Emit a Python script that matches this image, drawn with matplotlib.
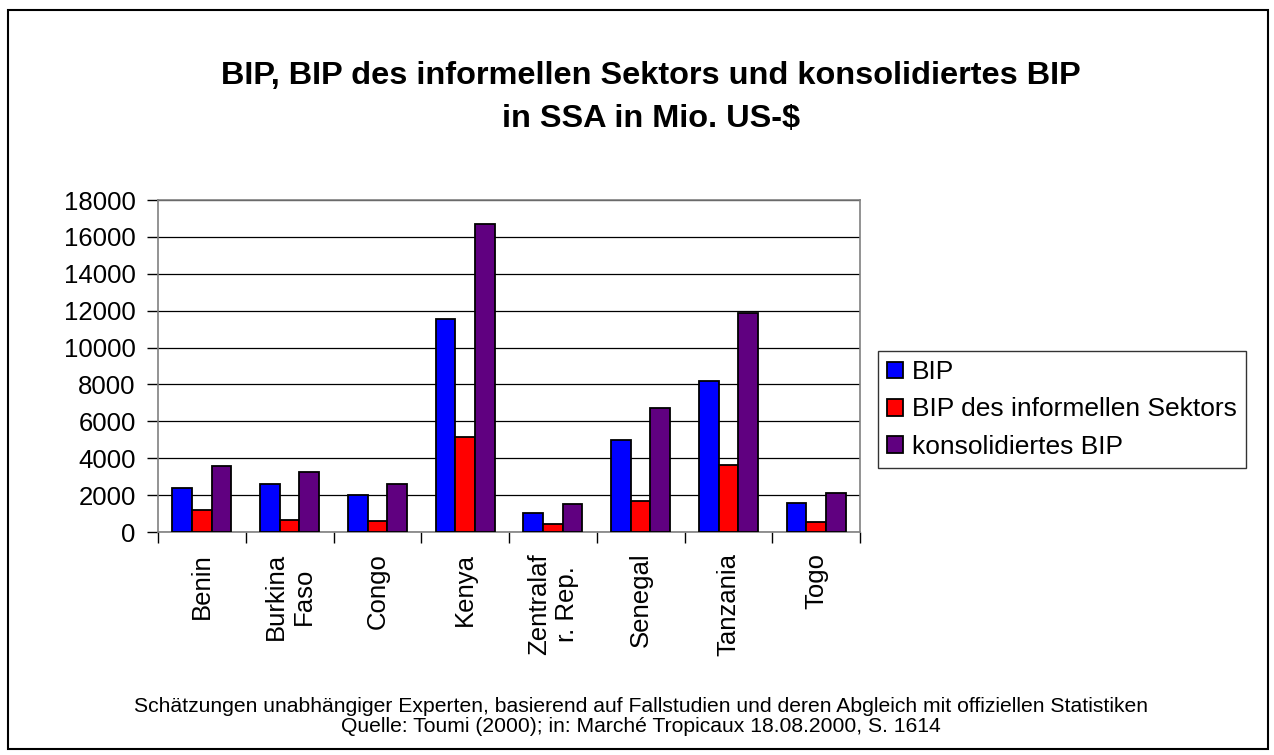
import matplotlib
matplotlib.use("Agg")
import matplotlib.pyplot as plt
import numpy as np
from matplotlib.patches import Rectangle

plt.rcParams['font.family'] = ['Liberation Sans', 'DejaVu Sans']

categories = ["Benin", "Burkina\nFaso", "Congo", "Kenya", "Zentralaf\nr. Rep.", "Senegal", "Tanzania", "Togo"]
bip = [2400, 2600, 2000, 11550, 1050, 5000, 8200, 1550]
bip_informell = [1200, 650, 600, 5150, 450, 1700, 3650, 550]
bip_konsolidiert = [3600, 3250, 2600, 16700, 1500, 6750, 11900, 2100]
series_names = ["BIP", "BIP des informellen Sektors", "konsolidiertes BIP"]
yticks = list(range(0, 18001, 2000))

W, H = 1274, 755
fig = plt.figure(figsize=(W/100, H/100), dpi=100)
fig.patch.set_facecolor('white')

# outer border
fig.add_artist(Rectangle((8/W, 1 - 749/H), (1268-8)/W, (749-10)/H, transform=fig.transFigure,
                         fill=False, edgecolor='black', linewidth=1.5))

left, right, top, bottom = 158, 860, 200, 532
ax = fig.add_axes([left/W, 1 - bottom/H, (right-left)/W, (bottom-top)/H])

n = len(categories)
x = np.arange(n)
bw = 0.225
colors = ['#0000FF', '#FF0000', '#600080']
data = [bip, bip_informell, bip_konsolidiert]
handles = []
for i, (vals, c, name) in enumerate(zip(data, colors, series_names)):
    h = ax.bar(x + (i - 1) * bw, vals, width=bw, color=c, edgecolor='black', linewidth=1.3,
               label=name, zorder=3)
    handles.append(h)

ax.set_xlim(-0.5, n - 0.5)
ax.set_ylim(0, 18000)
ax.set_yticks(yticks)
ax.set_yticklabels([str(v) for v in yticks], fontsize=18.5)
ax.yaxis.grid(True, color='black', linewidth=0.9, zorder=0)
ax.set_axisbelow(True)

ax.set_xticks(np.arange(n + 1) - 0.5)
ax.set_xticklabels([])
ax.set_xticks(x, minor=True)
ax.set_xticklabels(categories, minor=True, rotation=90, fontsize=18.5,
                   ha='center', va='top', multialignment='center')
ax.tick_params(axis='x', which='minor', length=0, pad=15)
ax.tick_params(axis='x', which='major', direction='out', length=8, color='black', width=1)
ax.tick_params(axis='y', direction='out', length=8, color='black', width=1, pad=8)

for s in ax.spines.values():
    s.set_color('#808080')
    s.set_linewidth(1.2)

fig.text(651/W, 1 - 76/H, "BIP, BIP des informellen Sektors und konsolidiertes BIP",
         ha='center', va='center', fontsize=23.4, fontweight='bold')
fig.text(651/W, 1 - 119/H, "in SSA in Mio. US-$",
         ha='center', va='center', fontsize=23.4, fontweight='bold')

leg = fig.legend(handles=handles, labels=series_names, loc='upper left',
                 bbox_to_anchor=(878/W, 1 - 351/H), fontsize=19, frameon=True,
                 fancybox=False, edgecolor='black', handlelength=0.6, handleheight=0.6,
                 handletextpad=0.34, borderaxespad=0, borderpad=0.35, labelspacing=0.5)
leg.get_frame().set_linewidth(1.0)

fig.text(641/W, 1 - 707/H, "Schätzungen unabhängiger Experten, basierend auf Fallstudien und deren Abgleich mit offiziellen Statistiken",
         ha='center', va='center', fontsize=15.2)
fig.text(641/W, 1 - 727/H, "Quelle: Toumi (2000); in: Marché Tropicaux 18.08.2000, S. 1614",
         ha='center', va='center', fontsize=15.2)

fig.savefig("out.png", dpi=100)
